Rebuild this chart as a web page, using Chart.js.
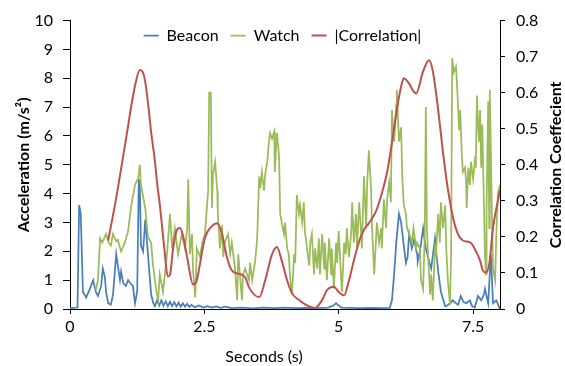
<!DOCTYPE html>
<html>
<head>
<meta charset="utf-8">
<script src="https://cdn.jsdelivr.net/npm/chart.js@4/dist/chart.umd.min.js"></script>
<style>
  html, body { margin: 0; padding: 0; background: #fff; }
  #wrap { width: 565px; height: 366px; }
</style>
</head>
<body>
<div id="wrap"><canvas id="c" width="565" height="366"></canvas></div>
<script>
// ---------------- DATA ----------------
const seriesNames = ['Beacon', 'Watch', '|Correlation|'];
const xTickValues = [0, 2.5, 5, 7.5];
const leftTitle = 'Acceleration (m/s\u00B2)';
const rightTitle = 'Correlation Coeffecient';
const xTitle = 'Seconds (s)';

const beaconTime = [
  0.00,0.14,0.17,0.20,0.24,0.30,0.37,0.43,0.48,0.52,
  0.58,0.61,0.65,0.67,0.71,0.76,0.80,0.86,0.89,0.93,
  0.95,0.99,1.04,1.08,1.12,1.17,1.21,1.25,1.28,1.30,
  1.32,1.36,1.40,1.45,1.51,1.55,1.58,1.62,1.66,1.70,
  1.74,1.78,1.82,1.86,1.90,1.94,1.98,2.02,2.06,2.10,
  2.14,2.18,2.22,2.26,2.32,2.40,2.48,2.56,2.64,2.72,
  2.80,2.90,3.00,3.20,3.40,3.60,3.80,4.00,4.20,4.40,
  4.60,4.80,4.90,4.95,5.00,5.05,5.20,5.40,5.60,5.80,
  5.95,5.99,6.03,6.07,6.12,6.16,6.21,6.25,6.28,6.31,
  6.36,6.40,6.46,6.47,6.51,6.57,6.62,6.66,6.72,6.79,
  6.85,6.90,6.98,7.00,7.07,7.12,7.18,7.22,7.27,7.32,
  7.37,7.44,7.48,7.53,7.59,7.65,7.70,7.72,7.78,7.83,
  7.87,7.93,8.00
];
const beaconAccel = [
  0.03,0.05,3.6,3.3,0.6,0.4,0.7,1.0,0.6,0.45,
  0.8,1.4,1.1,0.6,0.2,0.15,0.5,1.9,1.5,1.0,
  1.3,0.9,0.8,1.0,0.9,0.8,0.2,0.6,4.5,4.2,
  2.2,2.0,3.1,1.9,0.5,0.2,0.1,0.3,0.12,0.3,
  0.12,0.27,0.1,0.25,0.1,0.24,0.09,0.22,0.08,0.2,
  0.08,0.18,0.07,0.14,0.06,0.12,0.05,0.1,0.05,0.09,
  0.04,0.08,0.03,0.05,0.02,0.05,0.03,0.05,0.03,0.04,
  0.03,0.05,0.12,0.2,0.12,0.05,0.04,0.03,0.04,0.03,
  0.04,0.3,1.2,2.3,3.3,3.0,2.2,1.6,1.8,2.6,
  2.1,2.4,1.9,1.65,2.0,2.8,2.1,1.8,1.4,2.45,
  1.3,0.6,0.1,0.1,0.2,0.3,0.2,0.15,0.45,0.25,
  0.2,0.3,0.1,0.05,0.45,0.3,0.5,0.7,0.2,1.9,
  0.2,0.3,0.0
];

const watchTime = [
  0.48,0.52,0.56,0.60,0.67,0.72,0.76,0.80,0.86,0.89,
  0.95,1.02,1.08,1.14,1.21,1.27,1.30,1.32,1.40,1.45,
  1.51,1.54,1.60,1.64,1.67,1.73,1.80,1.86,1.90,1.95,
  2.01,2.08,2.14,2.18,2.20,2.23,2.27,2.29,2.33,2.36,
  2.42,2.46,2.51,2.57,2.59,2.62,2.64,2.66,2.70,2.74,
  2.75,2.79,2.83,2.85,2.88,2.94,2.98,3.01,3.07,3.11,
  3.13,3.20,3.22,3.26,3.33,3.35,3.39,3.44,3.48,3.52,
  3.54,3.57,3.61,3.63,3.67,3.70,3.72,3.76,3.80,3.81,
  3.85,3.89,3.91,3.94,3.98,4.00,4.04,4.07,4.09,4.13,
  4.17,4.19,4.22,4.26,4.28,4.32,4.35,4.37,4.41,4.45,
  4.47,4.50,4.54,4.56,4.60,4.63,4.65,4.69,4.73,4.74,
  4.78,4.82,4.86,4.87,4.91,4.95,4.97,5.00,5.04,5.06,
  5.10,5.13,5.15,5.19,5.23,5.25,5.28,5.32,5.34,5.38,
  5.41,5.43,5.47,5.51,5.53,5.56,5.60,5.62,5.66,5.69,
  5.71,5.75,5.79,5.80,5.84,5.88,5.90,5.94,5.97,5.99,
  6.03,6.07,6.08,6.12,6.16,6.18,6.21,6.25,6.27,6.31,
  6.36,6.39,6.44,6.46,6.51,6.53,6.57,6.60,6.62,6.64,
  6.66,6.70,6.72,6.75,6.79,6.81,6.85,6.88,6.90,6.94,
  6.98,7.00,7.03,7.07,7.09,7.11,7.14,7.18,7.20,7.24,
  7.26,7.29,7.31,7.35,7.37,7.38,7.41,7.44,7.46,7.50,
  7.54,7.55,7.57,7.61,7.63,7.65,7.67,7.70,7.72,7.74,
  7.75,7.78,7.80,7.81,7.85,7.87,7.91,7.93,7.96,8.00
];
const watchAccel = [
  0.65,1.0,2.45,2.3,2.6,2.3,2.2,2.6,2.35,2.4,
  2.0,2.3,2.7,3.6,4.3,4.55,5.0,4.3,3.5,2.5,
  2.3,1.6,0.7,0.3,1.2,0.6,1.8,3.3,2.1,2.8,
  1.9,2.6,2.1,2.8,4.5,1.9,2.6,1.3,0.4,2.1,
  1.8,2.3,2.6,4.1,7.5,7.5,3.5,4.65,5.1,4.1,
  3.3,2.1,2.9,1.8,2.3,2.6,1.9,2.3,1.4,0.3,
  1.9,0.3,1.2,1.4,1.0,1.6,1.0,1.6,2.35,4.6,
  4.2,4.75,4.1,4.65,5.1,5.75,6.1,5.9,6.15,4.75,
  6.1,5.3,3.3,3.0,2.6,3.0,2.1,1.9,1.2,0.5,
  1.9,1.6,3.95,3.3,3.6,3.0,3.7,2.7,2.1,1.5,
  2.3,2.6,1.2,2.1,1.4,2.45,1.2,2.6,1.4,2.3,
  1.0,2.45,1.2,2.1,0.7,2.3,1.6,2.7,1.2,0.6,
  2.3,1.9,2.8,1.8,2.6,3.7,2.3,3.3,2.1,3.7,
  2.8,2.1,4.6,2.8,4.4,5.5,4.2,2.8,1.2,2.3,
  3.0,2.3,2.8,2.1,3.8,2.8,3.8,4.4,3.7,6.9,
  5.8,7.1,7.6,5.8,6.3,4.65,3.6,3.3,2.8,2.6,
  2.3,2.8,2.1,2.3,2.1,1.0,0.7,2.6,7.0,2.8,
  1.9,0.5,1.2,0.3,2.1,1.9,3.3,2.3,3.7,2.8,
  3.6,2.1,1.0,0.15,1.9,8.7,8.2,8.4,7.8,6.2,
  6.9,5.3,4.75,4.9,4.4,3.5,4.9,4.3,5.1,4.5,
  5.3,4.9,7.4,5.8,6.9,4.9,6.4,3.7,1.9,1.2,
  3.5,7.2,2.8,7.6,3.3,1.4,1.0,2.5,4.0,4.3
];

const corrTime = [
  0.71,0.85,1.04,1.21,1.30,1.36,1.40,1.46,1.51,1.58,
  1.62,1.67,1.75,1.82,1.86,1.92,2.00,2.05,2.10,2.18,
  2.29,2.35,2.40,2.51,2.64,2.74,2.83,2.92,3.01,3.13,
  3.26,3.33,3.52,3.63,3.76,3.85,3.94,4.04,4.13,4.26,
  4.45,4.56,4.69,4.78,4.85,4.91,5.00,5.10,5.19,5.28,
  5.38,5.47,5.56,5.69,5.81,5.90,5.99,6.08,6.16,6.21,
  6.31,6.38,6.44,6.57,6.68,6.75,6.85,6.94,7.03,7.13,
  7.22,7.31,7.46,7.55,7.63,7.68,7.74,7.80,7.87,7.96,
  8.00
];
const corrValue = [
  0.19,0.30,0.47,0.62,0.663,0.655,0.63,0.56,0.49,0.41,
  0.35,0.29,0.175,0.09,0.095,0.17,0.222,0.225,0.205,0.143,
  0.068,0.075,0.11,0.197,0.23,0.238,0.207,0.143,0.107,0.098,
  0.088,0.06,0.033,0.079,0.152,0.172,0.134,0.079,0.044,0.025,
  0.007,0.003,0.025,0.052,0.06,0.062,0.047,0.038,0.079,0.134,
  0.188,0.22,0.238,0.27,0.325,0.38,0.46,0.552,0.617,0.64,
  0.625,0.606,0.598,0.66,0.69,0.66,0.552,0.434,0.333,0.251,
  0.207,0.19,0.183,0.161,0.134,0.107,0.101,0.125,0.225,0.30,
  0.33
];

// ---------------- CHART ----------------
const toPoints = (xs, ys) => xs.map((x, i) => ({ x: x, y: ys[i] }));
const FONT = 'Lato, "Open Sans", "DejaVu Sans", sans-serif';
Chart.defaults.font.family = FONT;
Chart.defaults.font.size = 16;
Chart.defaults.color = '#000';

// Legend sits inside the plot area (overlay): it takes no layout height,
// but keeps its real height while drawing.
const LEGEND_SHIFT = -5;
const legendOverlay = {
  id: 'legendOverlay',
  afterInit(chart) {
    const lg = chart.legend;
    if (!lg) return;
    const origFit = lg.fit.bind(lg);
    const origDraw = lg.draw.bind(lg);
    lg.fit = function () { origFit(); this._realH = this.height; this.height = 0; };
    lg.draw = function () {
      const t = this.top, b = this.bottom, h = this.height;
      this.top = t + LEGEND_SHIFT;
      this.height = this._realH || 0;
      this.bottom = this.top + this.height;
      origDraw();
      this.top = t; this.height = h; this.bottom = b;
    };
  }
};

const extraTitles = {
  id: 'extraTitles',
  afterDraw(chart) {
    const { ctx, chartArea } = chart;
    ctx.save();
    ctx.fillStyle = '#000';
    ctx.textAlign = 'center';
    ctx.textBaseline = 'middle';
    ctx.font = 'bold 16px ' + FONT;
    ctx.translate(556, (chartArea.top + chartArea.bottom) / 2);
    ctx.rotate(-Math.PI / 2);
    ctx.fillText(rightTitle, 0, 0);
    ctx.restore();
    ctx.save();
    ctx.fillStyle = '#000';
    ctx.textAlign = 'center';
    ctx.textBaseline = 'middle';
    ctx.font = '16px ' + FONT;
    ctx.fillText(xTitle, 264, 357);
    ctx.restore();
  }
};

new Chart(document.getElementById('c'), {
  type: 'line',
  data: {
    datasets: [
      { label: seriesNames[0], data: toPoints(beaconTime, beaconAccel), borderColor: '#4A7EBB', backgroundColor: '#4A7EBB',
        borderWidth: 1.75, pointRadius: 0, tension: 0, yAxisID: 'y', order: 2 },
      { label: seriesNames[1], data: toPoints(watchTime, watchAccel), borderColor: '#9BBB59', backgroundColor: '#9BBB59',
        borderWidth: 1.75, pointRadius: 0, tension: 0, yAxisID: 'y', order: 1 },
      { label: seriesNames[2], data: toPoints(corrTime, corrValue), borderColor: '#C0504D', backgroundColor: '#C0504D',
        borderWidth: 2, pointRadius: 0, cubicInterpolationMode: 'monotone', yAxisID: 'y1', order: 0 }
    ]
  },
  options: {
    responsive: false,
    devicePixelRatio: 1,
    animation: false,
    layout: { padding: { top: 16, left: 0, right: 0, bottom: 0 } },
    plugins: {
      tooltip: { enabled: false },
      legend: {
        position: 'top',
        align: 'center',
        labels: {
          usePointStyle: true,
          pointStyle: 'line',
          pointStyleWidth: 15,
          padding: 12,
          color: '#000',
          font: { size: 16 },
          sort: (a, b) => a.datasetIndex - b.datasetIndex
        }
      }
    },
    scales: {
      x: {
        type: 'linear',
        min: 0, max: 8,
        afterBuildTicks: s => { s.ticks = xTickValues.map(v => ({ value: v })); },
        afterFit: s => { s.height = 57; },
        ticks: { padding: 3, maxRotation: 0, autoSkip: false, color: '#000', font: { size: 16 } },
        grid: { display: true, drawOnChartArea: false, tickLength: 5, color: '#000' },
        border: { display: true, color: '#000', width: 1 }
      },
      y: {
        position: 'left',
        min: 0, max: 10,
        afterFit: s => { s.width = 70; },
        ticks: { stepSize: 1, padding: 10, color: '#000', font: { size: 16 } },
        grid: { display: true, drawOnChartArea: false, tickLength: 7, color: '#000' },
        border: { display: true, color: '#000', width: 1 },
        title: { display: true, text: leftTitle, color: '#000', font: { size: 16, weight: 'bold' }, padding: { top: 14, bottom: 0 } }
      },
      y1: {
        position: 'right',
        min: 0, max: 0.8,
        afterFit: s => { s.width = 65; },
        ticks: { stepSize: 0.1, padding: 11, color: '#000', font: { size: 16 } },
        grid: { display: true, drawOnChartArea: false, tickLength: 5, color: '#000' },
        border: { display: true, color: '#000', width: 1 }
      }
    }
  },
  plugins: [legendOverlay, extraTitles]
});
</script>
</body>
</html>
